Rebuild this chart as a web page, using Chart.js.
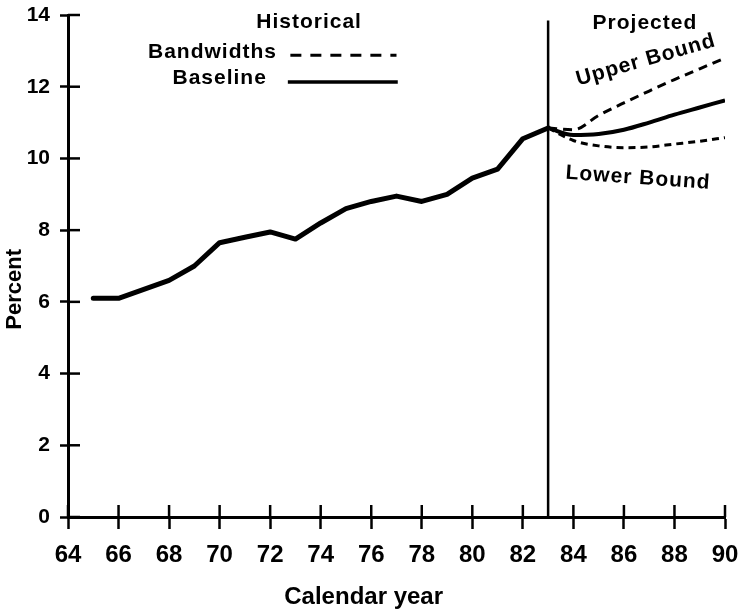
<!DOCTYPE html>
<html>
<head>
<meta charset="utf-8">
<script src="https://cdn.jsdelivr.net/npm/chart.js@4.4.1/dist/chart.umd.min.js"></script>
<style>
  body { margin: 0; background: #fff; }
  #wrap { width: 738px; height: 616px; position: relative; }
</style>
</head>
<body>
<div id="wrap"><canvas id="chart"></canvas></div>
<script>
// historical baseline (calendar year, percent)
var histYears = [65, 66, 67, 68, 69, 70, 71, 72, 73, 74, 75, 76, 77, 78, 79, 80, 81, 82, 83];
var histValues = [6.1, 6.1, 6.35, 6.6, 7.0, 7.65, 7.8, 7.95, 7.75, 8.2, 8.6, 8.8, 8.95, 8.8, 9.0, 9.45, 9.7, 10.55, 10.85];

// projections
var projYears = [83, 84, 85, 86, 87, 88, 89, 90];
var projBaseline = [10.85, 10.65, 10.68, 10.8, 11.0, 11.22, 11.42, 11.62];
var projUpper = [10.85, 10.8, 11.2, 11.55, 11.88, 12.2, 12.5, 12.8];
var projLower = [10.85, 10.5, 10.35, 10.3, 10.32, 10.4, 10.48, 10.58];

var splitYear = 83;
var yTicks = [0, 2, 4, 6, 8, 10, 12, 14];
var xTicks = [64, 66, 68, 70, 72, 74, 76, 78, 80, 82, 84, 86, 88, 90];

function pts(xs, ys) {
  return xs.map(function(x, i) { return { x: x, y: ys[i] }; });
}

var fam = '"Liberation Sans", Arial, sans-serif';
var labelFont = 'bold 21px ' + fam;

//Draw inner tick halves, divider line and text notes
var notesPlugin = {
  id: 'notes',
  afterDraw: function(chart) {
    var ctx = chart.ctx;
    var xs = chart.scales.x, ys = chart.scales.y;
    var area = chart.chartArea;
    ctx.save();
    ctx.strokeStyle = '#000';
    ctx.fillStyle = '#000';

    // tick marks crossing the axes
    ctx.lineWidth = 2.5;
    ys.ticks.forEach(function(t) {
      var py = ys.getPixelForValue(t.value);
      ctx.beginPath(); ctx.moveTo(area.left, py); ctx.lineTo(area.left + 12, py); ctx.stroke();
    });
    xs.ticks.forEach(function(t) {
      var px = xs.getPixelForValue(t.value);
      ctx.beginPath(); ctx.moveTo(px, area.bottom); ctx.lineTo(px, area.bottom - 12); ctx.stroke();
    });

    // historical / projected divider
    ctx.lineWidth = 2.5;
    var sx = xs.getPixelForValue(splitYear);
    ctx.beginPath(); ctx.moveTo(sx, ys.getPixelForValue(13.85)); ctx.lineTo(sx, area.bottom); ctx.stroke();

    // legend samples
    ctx.lineWidth = 3;
    ctx.setLineDash([11, 9]);
    ctx.beginPath();
    ctx.moveTo(xs.getPixelForValue(72.8), ys.getPixelForValue(12.88));
    ctx.lineTo(xs.getPixelForValue(77.0), ys.getPixelForValue(12.88));
    ctx.stroke();
    ctx.setLineDash([]);
    ctx.lineWidth = 3.5;
    ctx.beginPath();
    ctx.moveTo(xs.getPixelForValue(72.7), ys.getPixelForValue(12.13));
    ctx.lineTo(xs.getPixelForValue(77.05), ys.getPixelForValue(12.13));
    ctx.stroke();

    // texts
    ctx.font = labelFont;
    ctx.textBaseline = 'middle';
    try { ctx.letterSpacing = '1px'; } catch (e) {}
    function note(txt, x, y, align, angle) {
      ctx.save();
      ctx.translate(xs.getPixelForValue(x), ys.getPixelForValue(y));
      ctx.rotate((angle || 0) * Math.PI / 180);
      ctx.textAlign = align;
      ctx.fillText(txt, 0, 0);
      ctx.restore();
    }
    note('Historical', 73.54, 13.8, 'center');
    note('Bandwidths', 72.27, 12.97, 'right');
    note('Baseline', 71.87, 12.24, 'right');
    note('Projected', 86.83, 13.78, 'center');
    note('Upper Bound', 86.87, 12.74, 'center', -16);
    note('Lower Bound', 86.56, 9.45, 'center', 4);

    // axis titles
    try { ctx.letterSpacing = '0px'; } catch (e) {}
    ctx.font = 'bold 24px ' + fam;
    ctx.textAlign = 'center';
    ctx.fillText('Calendar year', xs.getPixelForValue(75.7), area.bottom + 80);

    ctx.font = 'bold 22px ' + fam;
    ctx.save();
    ctx.translate(15, ys.getPixelForValue(6.35));
    ctx.rotate(-Math.PI / 2);
    ctx.fillText('Percent', 0, 0);
    ctx.restore();

    ctx.restore();
  }
};

var ctx1 = document.getElementById('chart');

var chart1 = new Chart(ctx1, {
  type: 'line',
  data: {
    datasets: [
      {
        label: 'Historical',
        data: pts(histYears, histValues),
        borderColor: '#000',
        borderWidth: 5,
        borderJoinStyle: 'round',
        borderCapStyle: 'round',
        pointRadius: 0,
        tension: 0
      },
      {
        label: 'Baseline',
        data: pts(projYears, projBaseline),
        borderColor: '#000',
        borderWidth: 4,
        borderJoinStyle: 'round',
        pointRadius: 0,
        cubicInterpolationMode: 'monotone'
      },
      {
        label: 'Upper Bound',
        data: pts(projYears, projUpper),
        borderColor: '#000',
        borderWidth: 3,
        borderDash: [9, 6],
        pointRadius: 0,
        cubicInterpolationMode: 'monotone'
      },
      {
        label: 'Lower Bound',
        data: pts(projYears, projLower),
        borderColor: '#000',
        borderWidth: 3,
        borderDash: [7, 5],
        pointRadius: 0,
        cubicInterpolationMode: 'monotone'
      }
    ]
  },
  options: {
    responsive: true,
    maintainAspectRatio: false,
    animation: false,
    layout: { padding: { top: 15, right: 13, left: 0, bottom: 0 } },
    plugins: {
      legend: { display: false },
      tooltip: { enabled: false }
    },
    scales: {
      x: {
        type: 'linear',
        min: 64,
        max: 90,
        afterBuildTicks: function(scale) {
          scale.ticks = xTicks.map(function(v) { return { value: v }; });
        },
        ticks: {
          color: '#000',
          padding: 12,
          maxRotation: 0,
          autoSkip: false,
          font: { family: fam, size: 24, weight: 'bold' }
        },
        grid: {
          drawOnChartArea: false,
          drawTicks: true,
          tickLength: 12,
          tickWidth: 2.5,
          tickColor: '#000'
        },
        border: { display: true, color: '#000', width: 3 },
        afterFit: function(scale) {
          scale.height = 99;
          scale.paddingLeft = 0;
          scale.paddingRight = 0;
        }
      },
      y: {
        min: 0,
        max: 14,
        afterBuildTicks: function(scale) {
          scale.ticks = yTicks.map(function(v) { return { value: v }; });
        },
        ticks: {
          color: '#000',
          padding: 10,
          font: { family: fam, size: 21, weight: 'bold' }
        },
        grid: {
          drawOnChartArea: false,
          drawTicks: true,
          tickLength: 8,
          tickWidth: 2.5,
          tickColor: '#000'
        },
        border: { display: true, color: '#000', width: 3 },
        afterFit: function(scale) {
          scale.width = 68;
          scale.paddingTop = 0;
          scale.paddingBottom = 0;
        }
      }
    }
  },
  plugins: [notesPlugin]
});
</script>
</body>
</html>
